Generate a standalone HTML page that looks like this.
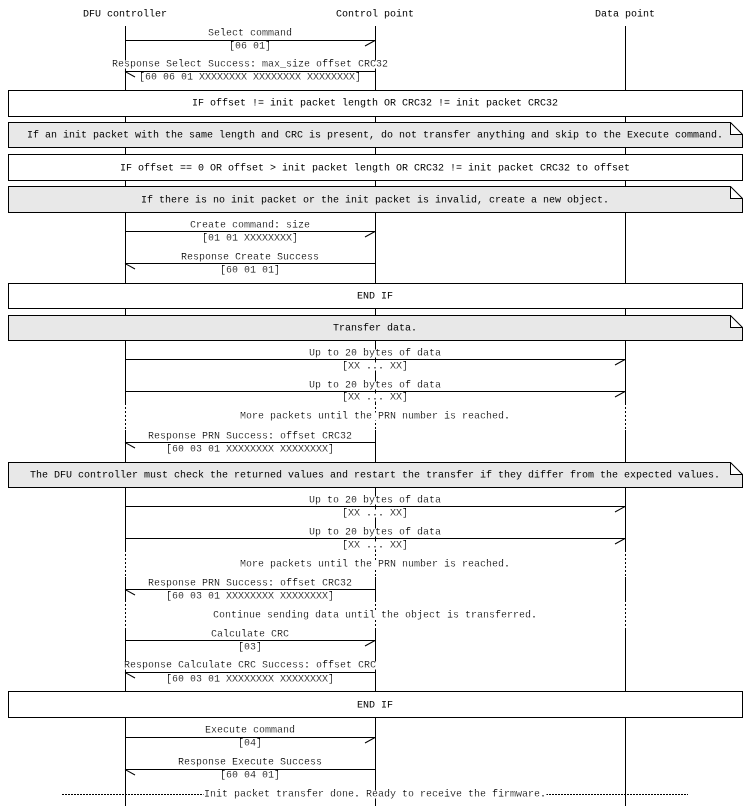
<!DOCTYPE html>
<html><head><style>
html,body{margin:0;padding:0;background:#fff}
svg{display:block}
text{font-family:"Liberation Mono",monospace;font-size:10px;fill:#000}
</style></head><body>
<svg width="750" height="806" viewBox="0 0 750 806" xmlns="http://www.w3.org/2000/svg">
<defs>
<filter id="bg" x="-0.05" y="-0.2" width="1.1" height="1.4" primitiveUnits="objectBoundingBox">
<feFlood flood-color="#fff" x="0" y="0.2" width="1" height="0.6" result="f"/>
<feMerge><feMergeNode in="f"/><feMergeNode in="SourceGraphic"/></feMerge>
</filter>
</defs>
<g stroke="#000" stroke-width="1" fill="none">
<path d="M125.5 26V403M375.5 26V403M625.5 26V403M125.5 430V550M375.5 430V550M625.5 430V550M125.5 577V600M375.5 577V600M625.5 577V600M125.5 628V806M375.5 628V806M625.5 628V806"/>
<path stroke-dasharray="2,2" d="M125.5 403V430M375.5 403V430M625.5 403V430M125.5 550V577M375.5 550V577M625.5 550V577M125.5 600V628M375.5 600V628M625.5 600V628"/>
</g>
<g text-anchor="middle" dominant-baseline="central">
<text x="125" y="15">DFU controller</text>
<text x="375" y="15">Control point</text>
<text x="625" y="15">Data point</text>
</g>

<g stroke="#000" stroke-width="1" fill="none">
<path d="M125 40.5H375M365 46L375 40.5"/>
<path d="M125 71.5H375M135 77L125 71.5"/>
<path d="M125 231.5H375M365 237L375 231.5"/>
<path d="M125 263.5H375M135 269L125 263.5"/>
<path d="M125 359.5H625M615 365L625 359.5"/>
<path d="M125 391.5H625M615 397L625 391.5"/>
<path d="M125 442.5H375M135 448L125 442.5"/>
<path d="M125 506.5H625M615 512L625 506.5"/>
<path d="M125 538.5H625M615 544L625 538.5"/>
<path d="M125 589.5H375M135 595L125 589.5"/>
<path d="M125 640.5H375M365 646L375 640.5"/>
<path d="M125 672.5H375M135 678L125 672.5"/>
<path d="M125 737.5H375M365 743L375 737.5"/>
<path d="M125 769.5H375M135 775L125 769.5"/>
</g>

<g stroke="#000" stroke-width="1">
<rect x="8.5" y="90.5" width="734" height="26" fill="#fff"/>
<path d="M8.5 122.5H730.5L742.5 134.5V147.5H8.5Z M730.5 122.5V134.5H742.5" fill="#e8e8e8"/>
<rect x="8.5" y="154.5" width="734" height="26" fill="#fff"/>
<path d="M8.5 186.5H730.5L742.5 198.5V212.5H8.5Z M730.5 186.5V198.5H742.5" fill="#e8e8e8"/>
<rect x="8.5" y="283.5" width="734" height="25" fill="#fff"/>
<path d="M8.5 315.5H730.5L742.5 327.5V340.5H8.5Z M730.5 315.5V327.5H742.5" fill="#e8e8e8"/>
<path d="M8.5 462.5H730.5L742.5 474.5V487.5H8.5Z M730.5 462.5V474.5H742.5" fill="#e8e8e8"/>
<rect x="8.5" y="691.5" width="734" height="26" fill="#fff"/>
</g>
<g stroke="#000" stroke-width="1" stroke-dasharray="2,1">
<path d="M62 794.5H205M546 794.5H688"/>
</g>

<g text-anchor="middle" dominant-baseline="central">
<text x="250" y="34" filter="url(#bg)">Select command</text>
<text x="250" y="47" filter="url(#bg)">[06 01]</text>
<text x="250" y="65" filter="url(#bg)">Response Select Success: max_size offset CRC32</text>
<text x="250" y="78" filter="url(#bg)">[60 06 01 XXXXXXXX XXXXXXXX XXXXXXXX]</text>
<text x="375" y="104">IF offset != init packet length OR CRC32 != init packet CRC32</text>
<text x="375" y="136">If an init packet with the same length and CRC is present, do not transfer anything and skip to the Execute command.</text>
<text x="375" y="169">IF offset == 0 OR offset &gt; init packet length OR CRC32 != init packet CRC32 to offset</text>
<text x="375" y="201">If there is no init packet or the init packet is invalid, create a new object.</text>
<text x="250" y="226" filter="url(#bg)">Create command: size</text>
<text x="250" y="239" filter="url(#bg)">[01 01 XXXXXXXX]</text>
<text x="250" y="258" filter="url(#bg)">Response Create Success</text>
<text x="250" y="271" filter="url(#bg)">[60 01 01]</text>
<text x="375" y="297">END IF</text>
<text x="375" y="329">Transfer data.</text>
<text x="375" y="354" filter="url(#bg)">Up to 20 bytes of data</text>
<text x="375" y="367" filter="url(#bg)">[XX ... XX]</text>
<text x="375" y="386" filter="url(#bg)">Up to 20 bytes of data</text>
<text x="375" y="398" filter="url(#bg)">[XX ... XX]</text>
<text x="375" y="417" filter="url(#bg)">More packets until the PRN number is reached.</text>
<text x="250" y="437" filter="url(#bg)">Response PRN Success: offset CRC32</text>
<text x="250" y="450" filter="url(#bg)">[60 03 01 XXXXXXXX XXXXXXXX]</text>
<text x="375" y="476">The DFU controller must check the returned values and restart the transfer if they differ from the expected values.</text>
<text x="375" y="501" filter="url(#bg)">Up to 20 bytes of data</text>
<text x="375" y="514" filter="url(#bg)">[XX ... XX]</text>
<text x="375" y="533" filter="url(#bg)">Up to 20 bytes of data</text>
<text x="375" y="546" filter="url(#bg)">[XX ... XX]</text>
<text x="375" y="565" filter="url(#bg)">More packets until the PRN number is reached.</text>
<text x="250" y="584" filter="url(#bg)">Response PRN Success: offset CRC32</text>
<text x="250" y="597" filter="url(#bg)">[60 03 01 XXXXXXXX XXXXXXXX]</text>
<text x="375" y="616" filter="url(#bg)">Continue sending data until the object is transferred.</text>
<text x="250" y="635" filter="url(#bg)">Calculate CRC</text>
<text x="250" y="648" filter="url(#bg)">[03]</text>
<text x="250" y="666" filter="url(#bg)">Response Calculate CRC Success: offset CRC</text>
<text x="250" y="680" filter="url(#bg)">[60 03 01 XXXXXXXX XXXXXXXX]</text>
<text x="375" y="706">END IF</text>
<text x="250" y="731" filter="url(#bg)">Execute command</text>
<text x="250" y="744" filter="url(#bg)">[04]</text>
<text x="250" y="763" filter="url(#bg)">Response Execute Success</text>
<text x="250" y="776" filter="url(#bg)">[60 04 01]</text>
<text x="375" y="795" filter="url(#bg)">Init packet transfer done. Ready to receive the firmware.</text>
</g>
</svg>
</body></html>
